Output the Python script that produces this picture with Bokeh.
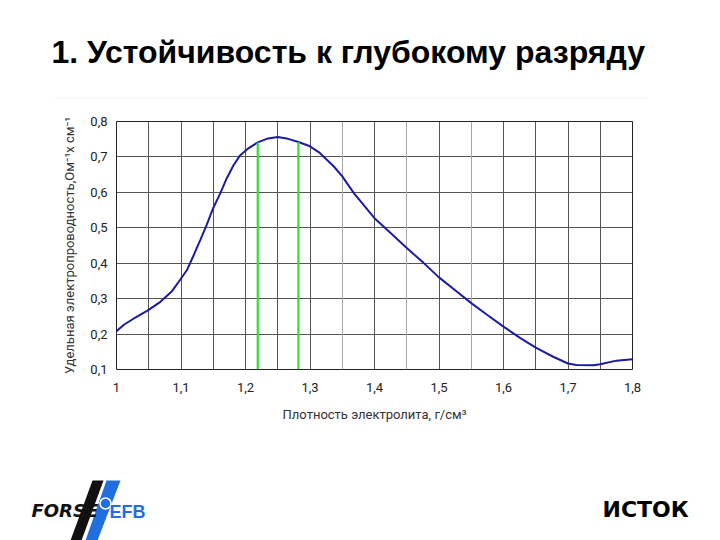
from bokeh.plotting import figure
from bokeh.layouts import column
from bokeh.models import Range1d, FixedTicker, Grid
from bokeh.core.properties import value
from bokeh.embed import file_html
from bokeh.resources import INLINE

# ---- data ----
density = [1.000, 1.012, 1.027, 1.048, 1.068, 1.086, 1.099, 1.109, 1.120, 1.130,
           1.140, 1.150, 1.161, 1.171, 1.181, 1.191, 1.205, 1.219, 1.233, 1.250,
           1.266, 1.282, 1.300, 1.314, 1.337, 1.350, 1.368, 1.400, 1.425, 1.450,
           1.476, 1.500, 1.527, 1.551, 1.575, 1.600, 1.625, 1.650, 1.677, 1.700,
           1.713, 1.739, 1.750, 1.775, 1.800]
conductivity = [0.208, 0.227, 0.244, 0.266, 0.291, 0.321, 0.354, 0.380, 0.424, 0.466,
                0.509, 0.556, 0.598, 0.640, 0.675, 0.703, 0.725, 0.741, 0.751, 0.756,
                0.751, 0.742, 0.730, 0.713, 0.673, 0.645, 0.598, 0.527, 0.485, 0.443,
                0.401, 0.360, 0.321, 0.286, 0.254, 0.221, 0.190, 0.162, 0.136, 0.117,
                0.113, 0.112, 0.115, 0.125, 0.129]
marker_x = [1.219, 1.282]
marker_bottom = [0.1, 0.1]
marker_top = [0.741, 0.742]

x_ticks = [1.0, 1.1, 1.2, 1.3, 1.4, 1.5, 1.6, 1.7, 1.8]
x_tick_labels = ["1", "1,1", "1,2", "1,3", "1,4", "1,5", "1,6", "1,7", "1,8"]
y_ticks = [0.1, 0.2, 0.3, 0.4, 0.5, 0.6, 0.7, 0.8]
y_tick_labels = ["0,1", "0,2", "0,3", "0,4", "0,5", "0,6", "0,7", "0,8"]
x_grid_dark = [1.0, 1.05, 1.1, 1.15, 1.2, 1.25, 1.3, 1.4, 1.5,
               1.6, 1.65, 1.7, 1.75, 1.8]
x_grid_light = [1.35, 1.45, 1.55]

title_text = "1. Устойчивость к глубокому разряду"
x_label = "Плотность электролита, г/см³"
y_label = "Удельная электропроводность,Ом⁻¹х см⁻¹"

CHART_FONT = "Roboto"
W = 720
HEAD_H, CHART_H, FOOT_H = 99, 342, 99


def blank(height, y0, y1):
    f = figure(width=W, height=height, x_range=Range1d(0, W), y_range=Range1d(y0, y1),
               output_backend="svg", toolbar_location=None, min_border=0)
    f.xaxis.visible = False
    f.yaxis.visible = False
    f.xgrid.visible = False
    f.ygrid.visible = False
    f.outline_line_color = None
    f.background_fill_color = "white"
    f.border_fill_color = "white"
    return f


# ---- header with the title ----
head = blank(HEAD_H, HEAD_H, 0)
head.text(x=[51], y=[51], text=[title_text], text_font=value("Liberation Sans"),
          text_font_style="bold", text_font_size="32px", text_color="#000000",
          text_baseline="alphabetic", text_align="left")
# faint top edge of the chart picture
head.segment(x0=[53], y0=[98.5], x1=[646], y1=[98.5], line_color="#ececec", line_width=1)

# ---- chart ----
p = figure(width=W, height=CHART_H,
           x_range=Range1d(1.0, 1.8), y_range=Range1d(0.1, 0.8),
           output_backend="svg", toolbar_location=None,
           min_border_left=116, min_border_right=88,
           min_border_top=22, min_border_bottom=72)
p.background_fill_color = "white"
p.border_fill_color = "white"
p.outline_line_color = "#222222"
p.outline_line_width = 1

for ax in (p.xaxis[0], p.yaxis[0]):
    ax.axis_line_color = None
    ax.major_tick_line_color = None
    ax.minor_tick_line_color = None
    ax.major_tick_out = 0
    ax.major_tick_in = 0
    ax.major_label_text_font = CHART_FONT
    ax.major_label_text_font_size = "13px"
    ax.major_label_text_color = "#222222"
    ax.axis_label_text_font = CHART_FONT
    ax.axis_label_text_font_size = "13px"
    ax.axis_label_text_font_style = "normal"
    ax.axis_label_text_color = "#333333"

p.xaxis.ticker = FixedTicker(ticks=x_ticks)
p.xaxis.major_label_overrides = {t: l for t, l in zip(x_ticks, x_tick_labels)}
p.xaxis.major_label_standoff = 13
p.xaxis.axis_label = x_label
p.xaxis.axis_label_standoff = 12

p.yaxis.ticker = FixedTicker(ticks=y_ticks)
p.yaxis.major_label_overrides = {t: l for t, l in zip(y_ticks, y_tick_labels)}
p.yaxis.major_label_standoff = 9
p.yaxis.axis_label = y_label
p.yaxis.axis_label_standoff = 10

p.xgrid.ticker = FixedTicker(ticks=x_grid_dark)
p.ygrid.ticker = FixedTicker(ticks=y_ticks)
for g in (p.xgrid[0], p.ygrid[0]):
    g.grid_line_color = "#555555"
    g.grid_line_width = 1
p.add_layout(Grid(dimension=0, ticker=FixedTicker(ticks=x_grid_light),
                  grid_line_color="#a8a8a8", grid_line_width=1))

p.line(density, conductivity, line_color="#1c1ca0", line_width=2)
p.segment(x0=marker_x, y0=marker_bottom, x1=marker_x, y1=marker_top,
          line_color="#33dd33", line_width=2.2)

# ---- footer with the logos (canvas-pixel coordinates, y from top) ----
foot = blank(FOOT_H, 540, 441)
foot.patches(xs=[[70, 81, 103, 92], [85, 97, 120, 106]],
             ys=[[540, 540, 480, 480], [540, 540, 480, 480]],
             fill_color=["#111111", "#1f6fe0"], line_color=None)
foot.text(x=[31], y=[510], text=["FORSE"], text_font=value("DejaVu Sans"),
          text_font_style="bold italic", text_font_size="18px", text_color="#111111",
          text_baseline="alphabetic", text_align="left")
foot.scatter(x=[105], y=[503], size=11, marker="circle", fill_color="#1f6fe0",
             line_color="white", line_width=1.5)
foot.text(x=[109], y=[511], text=["EFB"], text_font=value("Liberation Sans"),
          text_font_style="bold", text_font_size="18px", text_color="#1f6fe0",
          text_baseline="alphabetic", text_align="left")
foot.text(x=[602], y=[509], text=["ИСТОК"], text_font=value("DejaVu Sans"),
          text_font_style="bold", text_font_size="22px", text_color="#000000",
          text_baseline="middle", text_align="left")

layout = column(head, column(p, spacing=0), foot, spacing=0)
open("out.html", "w").write(file_html(layout, INLINE))
